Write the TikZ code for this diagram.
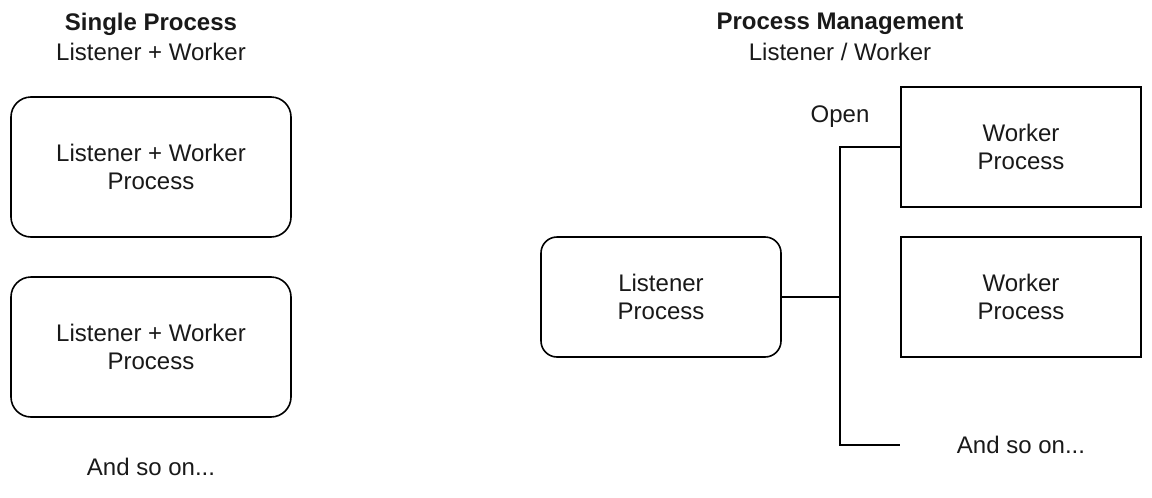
\documentclass[tikz,border=0pt]{standalone}
\usepackage{fontspec}
\setmainfont{Liberation Sans}
\begin{document}
\begin{tikzpicture}[x=1pt,y=-1pt,
  box/.style={draw=black,line width=1.6pt,minimum width=280pt,minimum height=140pt,rounded corners=20pt,align=center,inner sep=0pt},
  lbox/.style={draw=black,line width=1.6pt,minimum width=240pt,minimum height=120pt,rounded corners=16pt,align=center,inner sep=0pt},
  wbox/.style={draw=black,line width=1.6pt,minimum width=240pt,minimum height=120pt,align=center,inner sep=0pt},
  lbl/.style={align=center,inner sep=0pt},
  conn/.style={draw=black,line width=1.6pt},
  every node/.style={font=\fontsize{24}{28}\selectfont,text=black!90}]
\useasboundingbox (0,0) rectangle (1152,498);
\node[lbl] (t1) at (151,24) {\textbf{Single Process}};
\node[lbl] (s1) at (151,52) {Listener + Worker};
\node[box] (a1) at (151,167) {Listener + Worker\\Process};
\node[box] (a2) at (151,347) {Listener + Worker\\Process};
\node[lbl] (m1) at (151,467) {And so on...};
\node[lbl] (t2) at (840,24) {\textbf{Process Management}};
\node[lbl] (s2) at (840,52) {Listener / Worker};
\node[lbox] (lp) at (661,297) {Listener\\Process};
\node[wbox] (w1) at (1021,147) {Worker\\Process};
\node[wbox] (w2) at (1021,297) {Worker\\Process};
\node[lbl] (open) at (840,117) {Open};
\node[lbl] (m2) at (1021,445) {And so on...};
\coordinate (j) at (840,297);
\coordinate (e) at (900,445);
\draw[conn] (lp.east) -- (j);
\draw[conn] (j) |- (w1.west);
\draw[conn] (j) |- (e);
\end{tikzpicture}
\end{document}
